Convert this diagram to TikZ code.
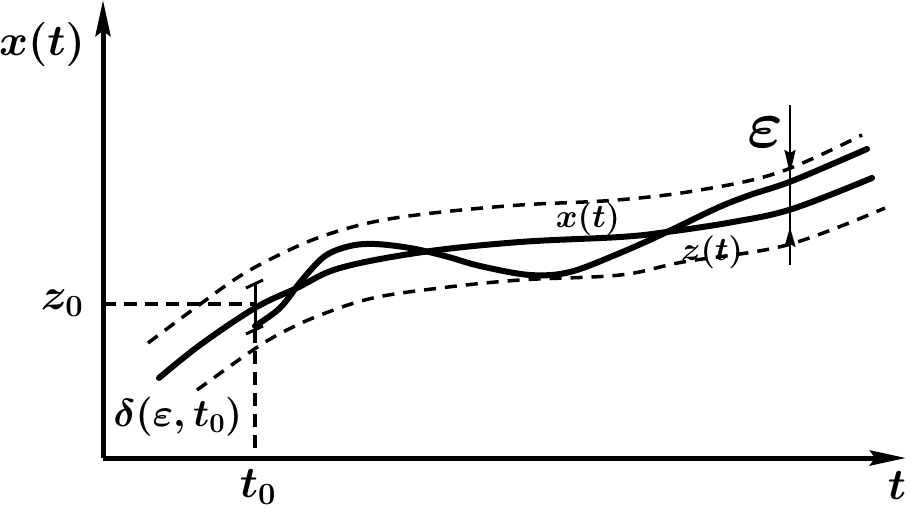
\RequirePackage{fix-cm}
\documentclass[tikz,border=0pt]{standalone}
\usepackage{amsmath}
\usetikzlibrary{arrows.meta}
\begin{document}
\begin{tikzpicture}[x=1pt,y=-1pt,
  axis/.style={line width=5pt,-{Stealth[length=36pt,width=15pt,inset=5pt]}},
  curve/.style={line width=6pt,line cap=round},
  band/.style={line width=3.5pt,dash pattern=on 12pt off 9pt},
  guide/.style={line width=3.5pt,dash pattern=on 13pt off 8pt},
  lbl/.style={inner sep=0pt,font=\fontsize{44}{44}\selectfont\boldmath},
  smalllbl/.style={inner sep=0pt,font=\fontsize{33}{33}\selectfont\boldmath}]
\useasboundingbox (0,0) rectangle (923,514);
\coordinate (O) at (103,458);
\coordinate (ytip) at (103,0);
\coordinate (xtip) at (906,458);
\coordinate (z0) at (103,304);
\coordinate (t0) at (255,458);
\coordinate (t0top) at (255,304);
% dashed guides
\draw[guide] (z0) -- (t0top);
\draw[guide] (255,330) -- (t0);
% delta bar
\draw[line width=3pt] (255,283) -- (255,330);
\draw[line width=3pt] (246,288) -- (263,280);
\draw[line width=3pt] (246,334) -- (263,326);
% bands
\draw[band] plot[smooth,tension=0.6] coordinates {(148,343) (195,308) (240,276) (283,253) (323,236) (373,222) (433,213) (520,205) (617,200) (700,190) (780,172) (862,135)};
\draw[band] plot[smooth,tension=0.6] coordinates {(197,390) (253,350) (285,331) (323,314) (373,298) (440,288) (520,280) (620,275) (683,262) (787,245) (885,208)};
% z(t)
\draw[curve] plot[smooth,tension=0.6] coordinates {(159,378) (200,345) (255,308) (297,288) (340,268) (423,252) (520,242) (620,237) (667,232) (733,222) (792,209) (872,178)};
% x(t)
\draw[curve] plot[smooth,tension=0.55] coordinates {(255,326) (280,308) (302,280) (325,256) (350,246) (375,244) (410,248) (445,256) (480,266) (530,275) (570,272) (620,253) (667,232) (717,208) (750,195) (792,181) (867,149)};
% axes
\draw[axis] (O) -- (ytip);
\draw[axis] (O) -- (xtip);
% epsilon
\draw[line width=2.5pt] (790,105) -- (790,265);
\draw[line width=2.5pt,-{Stealth[length=24pt,width=11pt,inset=3pt]}] (790,140) -- (790,174);
\draw[line width=2.5pt,-{Stealth[length=20pt,width=11pt,inset=3pt]}] (790,260) -- (790,227);
% labels
\node[lbl] (xl) at (42,44) {$x(t)$};
\node[lbl] (zl) at (62,303) {$z_0$};
\node[lbl] (tl) at (258,487) {$t_0$};
\node[lbl] (tt) at (897,486) {$t$};
\node[inner sep=0pt,font=\fontsize{68}{68}\selectfont\boldmath] (el) at (765,132) {$\varepsilon$};
\node[inner sep=0pt,font=\fontsize{39}{39}\selectfont\boldmath] (dl) at (178,417) {$\delta(\varepsilon,t_0)$};
\node[smalllbl] (xm) at (588,219) {$x(t)$};
\node[smalllbl] (zm) at (712,252) {$z(t)$};
\end{tikzpicture}
\end{document}
